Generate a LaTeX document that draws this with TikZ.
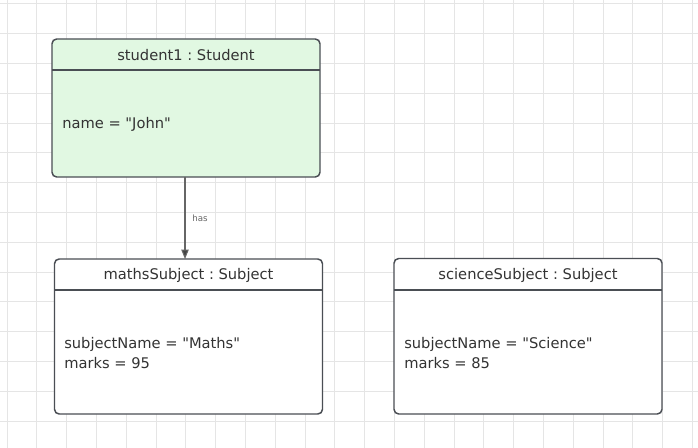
\documentclass[tikz,border=0pt]{standalone}
\usepackage{fontspec}
\setmainfont{DejaVu Sans}[Ligatures=TeXOff]
\usetikzlibrary{arrows.meta}
\definecolor{gridc}{HTML}{E5E5E5}
\definecolor{edgec}{HTML}{4A4E54}
\definecolor{greenf}{HTML}{E1F8E2}
\definecolor{textc}{HTML}{333333}
\definecolor{linec}{HTML}{666666}
\definecolor{tipc}{HTML}{444444}
\tikzset{
  objbox/.style={draw=edgec, line width=1.1pt, rounded corners=3.5pt},
  hdr/.style={font=\fontsize{11pt}{13pt}\selectfont\frenchspacing, text=textc, inner sep=0pt},
  body/.style={font=\fontsize{11pt}{14.3pt}\selectfont\frenchspacing, text=textc, inner sep=0pt, anchor=west, align=left},
  lbl/.style={font=\fontsize{6.5pt}{8pt}\selectfont, text=linec, inner sep=0pt},
  conn/.style={draw=linec, line width=0.8pt, -{Triangle[length=7pt,width=5.5pt,fill=tipc]}}
}
\begin{document}
\begin{tikzpicture}[x=0.75pt,y=-0.75pt]
\useasboundingbox (0,0) rectangle (698,448);
\fill[white] (0,0) rectangle (698,448);
% grid
\foreach \i in {0,...,23} {\draw[gridc, line width=0.75pt] ({7+29.8*\i},0) -- ({7+29.8*\i},448);}
\foreach \j in {0,...,15} {\draw[gridc, line width=0.75pt] (0,{4+29.8*\j}) -- (698,{4+29.8*\j});}

% student1
\draw[objbox, fill=greenf] (52,39) rectangle (320,177);
\draw[edgec, line width=1.1pt] (52,70) -- (320,70);
\node[hdr] (sh) at (186,55) {student1 : Student};
\node[body] (sb) at (62,124) {name = "John"};
\coordinate (sbot) at (185,177);

% mathsSubject
\draw[objbox, fill=white] (54.5,259) rectangle (322.5,414);
\draw[edgec, line width=1.1pt] (54.5,290) -- (322.5,290);
\node[hdr] (mh) at (188.5,275) {mathsSubject : Subject};
\node[body] (mb) at (64,353) {subjectName = "Maths"\\marks = 95};
\coordinate (mtop) at (185,259);

% scienceSubject
\draw[objbox, fill=white] (394,258.5) rectangle (662,414);
\draw[edgec, line width=1.1pt] (394,290) -- (662,290);
\node[hdr] (ch) at (528,275) {scienceSubject : Subject};
\node[body] (cb) at (404,353) {subjectName = "Science"\\marks = 85};

% connector
\draw[conn] (sbot) -- (mtop);
\node[lbl] (has) at (200,218) {has};
\end{tikzpicture}
\end{document}
